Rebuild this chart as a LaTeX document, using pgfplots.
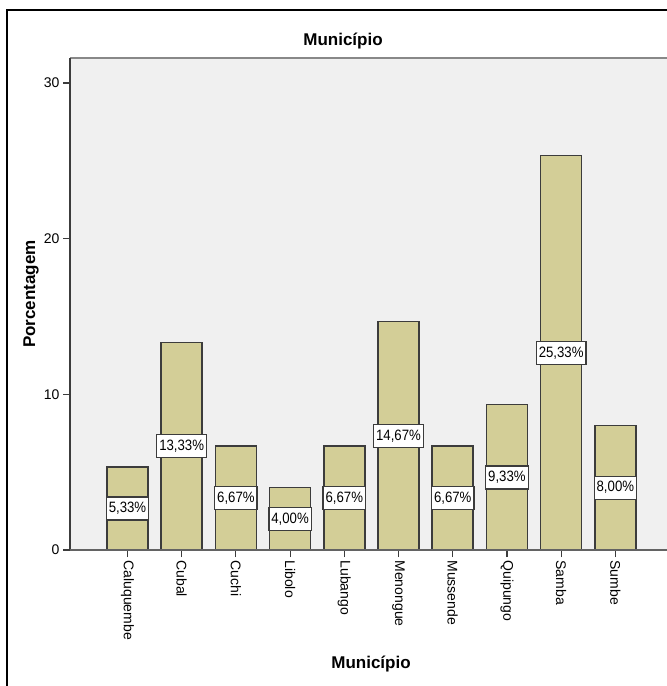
\documentclass[border=0pt]{standalone}
\usepackage{pgfplots}
\pgfplotsset{compat=1.18}
\usepackage{pgfplotstable}
\usepackage{fontspec}
\setmainfont{Liberation Sans}
\newfontfamily\boxfont[FakeStretch=0.88]{Liberation Sans}

\definecolor{barfill}{RGB}{211,206,151}
\definecolor{plotbg}{RGB}{240,240,240}
\definecolor{edge}{RGB}{60,60,60}
\definecolor{topline}{RGB}{136,136,136}

% Percentage of respondents per municipality
\pgfplotstableread{
idx name value
0 Caluquembe 5.33
1 Cubal 13.33
2 Cuchi 6.67
3 Libolo 4.00
4 Lubango 6.67
5 Menongue 14.67
6 Mussende 6.67
7 Quipungo 9.33
8 Samba 25.33
9 Sumbe 8.00
}\municipios

\begin{document}
\begin{tikzpicture}[x=1pt,y=1pt]
\useasboundingbox (0,0) rectangle (667,686);
\clip (0,0) rectangle (667,686);
\fill[white] (0,0) rectangle (667,686);

\begin{axis}[
  at={(70pt,136pt)}, anchor=south west,
  scale only axis, width=605pt, height=492pt,
  xmin=-1.06, xmax=10.1, ymin=0, ymax=31.6,
  clip=false,
  axis background/.style={fill=plotbg},
  axis line style={draw=none},
  xtick={0,...,9},
  xticklabels from table={\municipios}{name},
  ytick={0,10,20,30},
  tick align=outside,
  xtick pos=left, ytick pos=left,
  major tick length=7pt,
  tick style={edge, line width=1.2pt},
  /pgf/number format/assume math mode=true,
  ticklabel style={font=\fontsize{14}{16}\selectfont},
  xticklabel style={rotate=-90, anchor=west},
]
\addplot[ybar, bar width=41pt, fill=barfill, draw=edge, line width=1.5pt]
  table[x=idx, y=value]{\municipios};

\addplot[draw=none, mark=none, point meta=explicit,
  nodes near coords={\pgfmathprintnumber[fixed, fixed zerofill, precision=2, use comma]{\pgfplotspointmeta}\%},
  nodes near coords style={anchor=center, fill=white, draw=edge, line width=1.3pt,
    font=\boxfont\fontsize{15}{17}\selectfont, inner xsep=2.5pt, minimum height=23pt}]
  table[x=idx, y expr=\thisrow{value}/2, meta=value]{\municipios};

\draw[topline, line width=2pt] (rel axis cs:0,1) -- (rel axis cs:1.2,1);
\draw[edge, line width=1.5pt] (rel axis cs:0,0) -- (rel axis cs:0,1);
\draw[edge!80!white, line width=1.5pt] (rel axis cs:0,0) -- (rel axis cs:1.2,0);
\end{axis}

\node[anchor=base, font=\bfseries\fontsize{17}{20}\selectfont] at (343,640) {Município};
\node[anchor=base, font=\bfseries\fontsize{17}{20}\selectfont] at (371,17) {Município};
\node[rotate=90, font=\bfseries\fontsize{17}{20}\selectfont] at (31,392) {Porcentagem};

% outer frame
\draw[black, line width=2.5pt] (7,-10) -- (7,676) -- (700,676);
\end{tikzpicture}
\end{document}
